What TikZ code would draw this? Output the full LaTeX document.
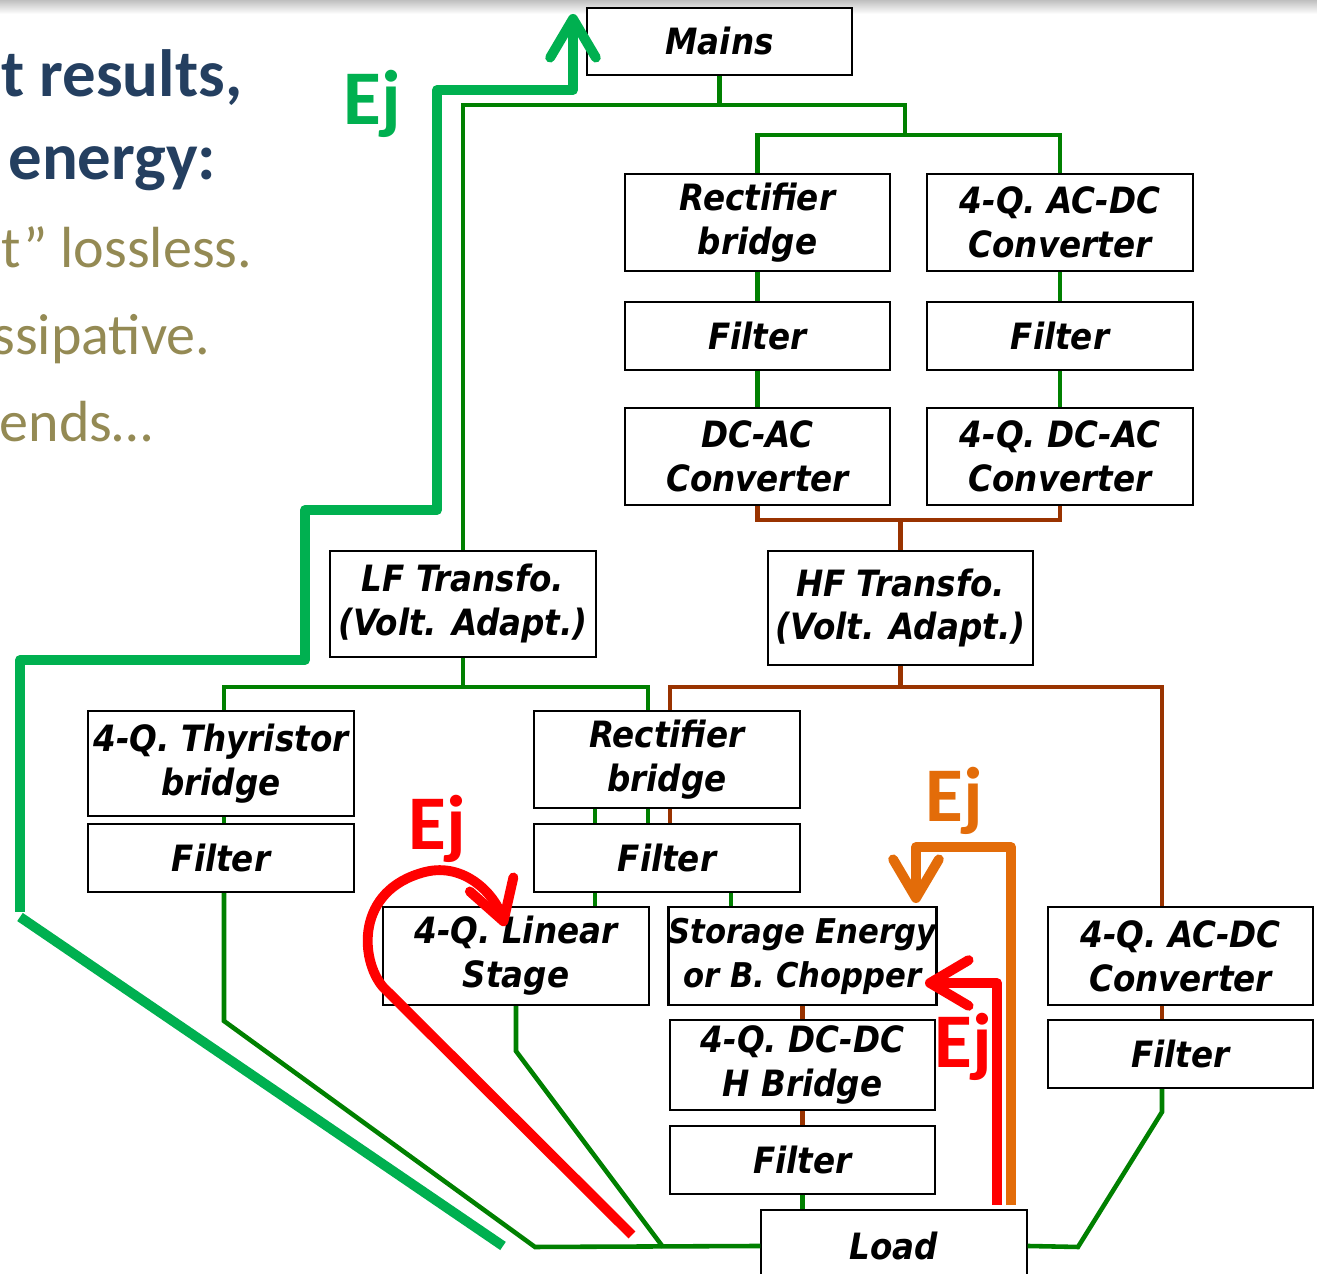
\documentclass[tikz,border=0pt]{standalone}
\usepackage{fontspec}
\usetikzlibrary{arrows.meta}
\setmainfont{Carlito}
\newfontfamily\boxfont{DejaVu Sans Condensed}

\definecolor{busgreen}{HTML}{008000}
\definecolor{hfbrown}{HTML}{993300}
\definecolor{ejgreen}{HTML}{00B050}
\definecolor{ejred}{HTML}{FF0000}
\definecolor{ejorange}{HTML}{E36C09}
\definecolor{headblue}{HTML}{243F60}
\definecolor{bodyolive}{HTML}{948A54}

\begin{document}
\begin{tikzpicture}[x=0.01cm, y=-0.01cm,
  blk/.style={draw, fill=white, line width=0.6pt, minimum width=2.65cm, inner sep=0pt,
    align=center, font=\boxfont\bfseries\itshape\fontsize{10.3}{12.5}\selectfont},
  gline/.style={busgreen, line width=1.3pt},
  bline/.style={hfbrown, line width=1.3pt},
  ej/.style={line width=2.8pt, line join=round,
    -{Straight Barb[length=11pt, width=13pt, round]}},
  ejlbl/.style={anchor=base west, inner sep=0pt, font=\bfseries\fontsize{22}{22}\selectfont}]
  \useasboundingbox (0,0) rectangle (1317,1274);
  \shade[top color=black!25, bottom color=white] (0,0) rectangle (1317,14);

  % slide text, cut at the left edge
  \begin{scope}
    \clip (0,0) rectangle (1317,1274);
    \node[anchor=base east, inner sep=0pt, headblue, font=\bfseries\fontsize{19}{19}\selectfont] at (243,97) {t results,};
    \node[anchor=base east, inner sep=0pt, headblue, font=\bfseries\fontsize{19}{19}\selectfont] at (217,180) {energy:};
    \node[anchor=base east, inner sep=0pt, bodyolive, font=\fontsize{16.5}{16.5}\selectfont] at (253,268) {t” lossless.};
    \node[anchor=base east, inner sep=0pt, bodyolive, font=\fontsize{16.5}{16.5}\selectfont] at (211,355) {ssipative.};
    \node[anchor=base east, inner sep=0pt, bodyolive, font=\fontsize{16.5}{16.5}\selectfont] at (153,442) {ends…};
  \end{scope}

  % blocks
  \node[blk, minimum height=0.67cm] (mains) at (719.5,41.5) {Mains};
  \node[blk, minimum height=0.97cm] (rectA) at (757.5,222.5) {Rectifier\\bridge};
  \node[blk, minimum height=0.97cm] (acdcA) at (1060,222.5) {4-Q. AC-DC\\Converter};
  \node[blk, minimum height=0.68cm] (filtA) at (757.5,336) {Filter};
  \node[blk, minimum height=0.68cm] (filtB) at (1060,336) {Filter};
  \node[blk, minimum height=0.97cm] (dcac) at (757.5,456.5) {DC-AC\\Converter};
  \node[blk, minimum height=0.97cm] (dcacQ) at (1060,456.5) {4-Q. DC-AC\\Converter};
  \node[blk, minimum height=1.06cm] (lf) at (463,604) {LF Transfo.\\(Volt. Adapt.)};
  \node[blk, minimum height=1.14cm] (hf) at (900.5,608) {HF Transfo.\\(Volt. Adapt.)};
  \node[blk, minimum height=1.05cm] (thyr) at (221,763.5) {4-Q. Thyristor\\bridge};
  \node[blk, minimum height=0.68cm] (filtT) at (221,858) {Filter};
  \node[blk, minimum height=0.97cm] (rectB) at (667,759.5) {Rectifier\\bridge};
  \node[blk, minimum height=0.68cm] (filtR) at (667,858) {Filter};
  \node[blk, minimum height=0.98cm] (lin) at (516,956) {4-Q. Linear\\Stage};
  \node[blk, minimum height=0.98cm, font=\boxfont\bfseries\itshape\fontsize{9.7}{12.5}\selectfont] (stor) at (802.5,956) {Storage Energy\\or B. Chopper};
  \node[blk, minimum height=0.90cm] (hbr) at (802.5,1065) {4-Q. DC-DC\\H Bridge};
  \node[blk, minimum height=0.68cm] (filtH) at (802.5,1160) {Filter};
  \node[blk, minimum height=0.72cm] (load) at (894,1246) {Load};
  \node[blk, minimum height=0.98cm] (acdcB) at (1180.5,956) {4-Q. AC-DC\\Converter};
  \node[blk, minimum height=0.68cm] (filtC) at (1180.5,1054) {Filter};

  % bus points
  \coordinate (busM) at (905,105);
  \coordinate (busA) at (905,135);
  \coordinate (busHF) at (897,520);
  \coordinate (gL) at (224,687);
  \coordinate (gR) at (648,687);
  \coordinate (gM) at (595,0);
  \coordinate (gS) at (731,0);
  \coordinate (brL) at (670,687);
  \coordinate (brR) at (1162,687);

  % mains side (green)
  \draw[gline] (mains.south) -- (mains.south |- busM);
  \draw[gline] (lf.north) |- (busM) -- (busA);
  \draw[gline] (rectA.north) |- (busA) -| (acdcA.north);
  \draw[gline] (rectA.south) -- (filtA.north);
  \draw[gline] (filtA.south) -- (dcac.north);
  \draw[gline] (acdcA.south) -- (filtB.north);
  \draw[gline] (filtB.south) -- (dcacQ.north);
  \draw[gline] (lf.south) -- (lf.south |- gL);
  \draw[gline] (gL |- thyr.north) |- (gR) -- (gR |- rectB.north);
  \draw[gline] (gL |- thyr.south) -- (gL |- filtT.north);
  \draw[gline] (gR |- rectB.south) -- (gR |- filtR.north);
  \draw[gline] (gM |- rectB.south) -- (gM |- filtR.north);
  \draw[gline] (gM |- filtR.south) -- (gM |- lin.north);
  \draw[gline] (gS |- filtR.south) -- (gS |- stor.north);
  \draw[gline] (filtH.south) -- (filtH.south |- load.north);

  % HF side (brown)
  \draw[bline] (dcac.south) |- (busHF) -| (dcacQ.south);
  \draw[bline] (hf.north) -- (hf.north |- busHF);
  \draw[bline] (hf.south) -- (hf.south |- brR);
  \draw[bline] (brL |- rectB.north) |- (brR) -- (brR |- acdcB.north);
  \draw[bline] (brL |- rectB.south) -- (brL |- filtR.north);
  \draw[bline] (brR |- acdcB.south) -- (brR |- filtC.north);
  \draw[bline] (stor.south) -- (hbr.north);
  \draw[bline] (hbr.south) -- (filtH.north);

  % to the load
  \draw[gline] (gL |- filtT.south) -- (224,1021) -- (535,1247) -- (load.west);
  \draw[gline] (lin.south) -- ++(0,45) -- (663,1247);
  \draw[gline] (brR |- filtC.south) -- (1162,1112) -- (1078,1247) -- (load.east);

  % energy flows
  \draw[ejgreen, line width=2.8pt] (503,1246) -- (20,917);
  \draw[ej, ejgreen] (20,912) -- (20,660) -- (305,660) -- (305,510) -- (437,510)
    -- (437,90) -- (573,90) -- (573,14);
  \node[ejlbl, ejgreen] (ejG) at (343,125) {Ej};

  \draw[ej, ejred] (632,1235) -- (383,987) .. controls (360,960) and (355,890) .. (425,872)
    .. controls (465,862) and (495,895) .. (505,926);
  \node[ejlbl, ejred] (ejR) at (408,850) {Ej};

  \draw[ej, ejorange] (1011,1205) -- (1011,847) -- (916,847) -- (916,903);
  \node[ejlbl, ejorange] (ejO) at (925,822) {Ej};

  \draw[ej, ejred] (997,1205) -- (997,983) -- (925,983);
  \node[ejlbl, ejred] (ejS) at (934,1068) {Ej};
\end{tikzpicture}
\end{document}
